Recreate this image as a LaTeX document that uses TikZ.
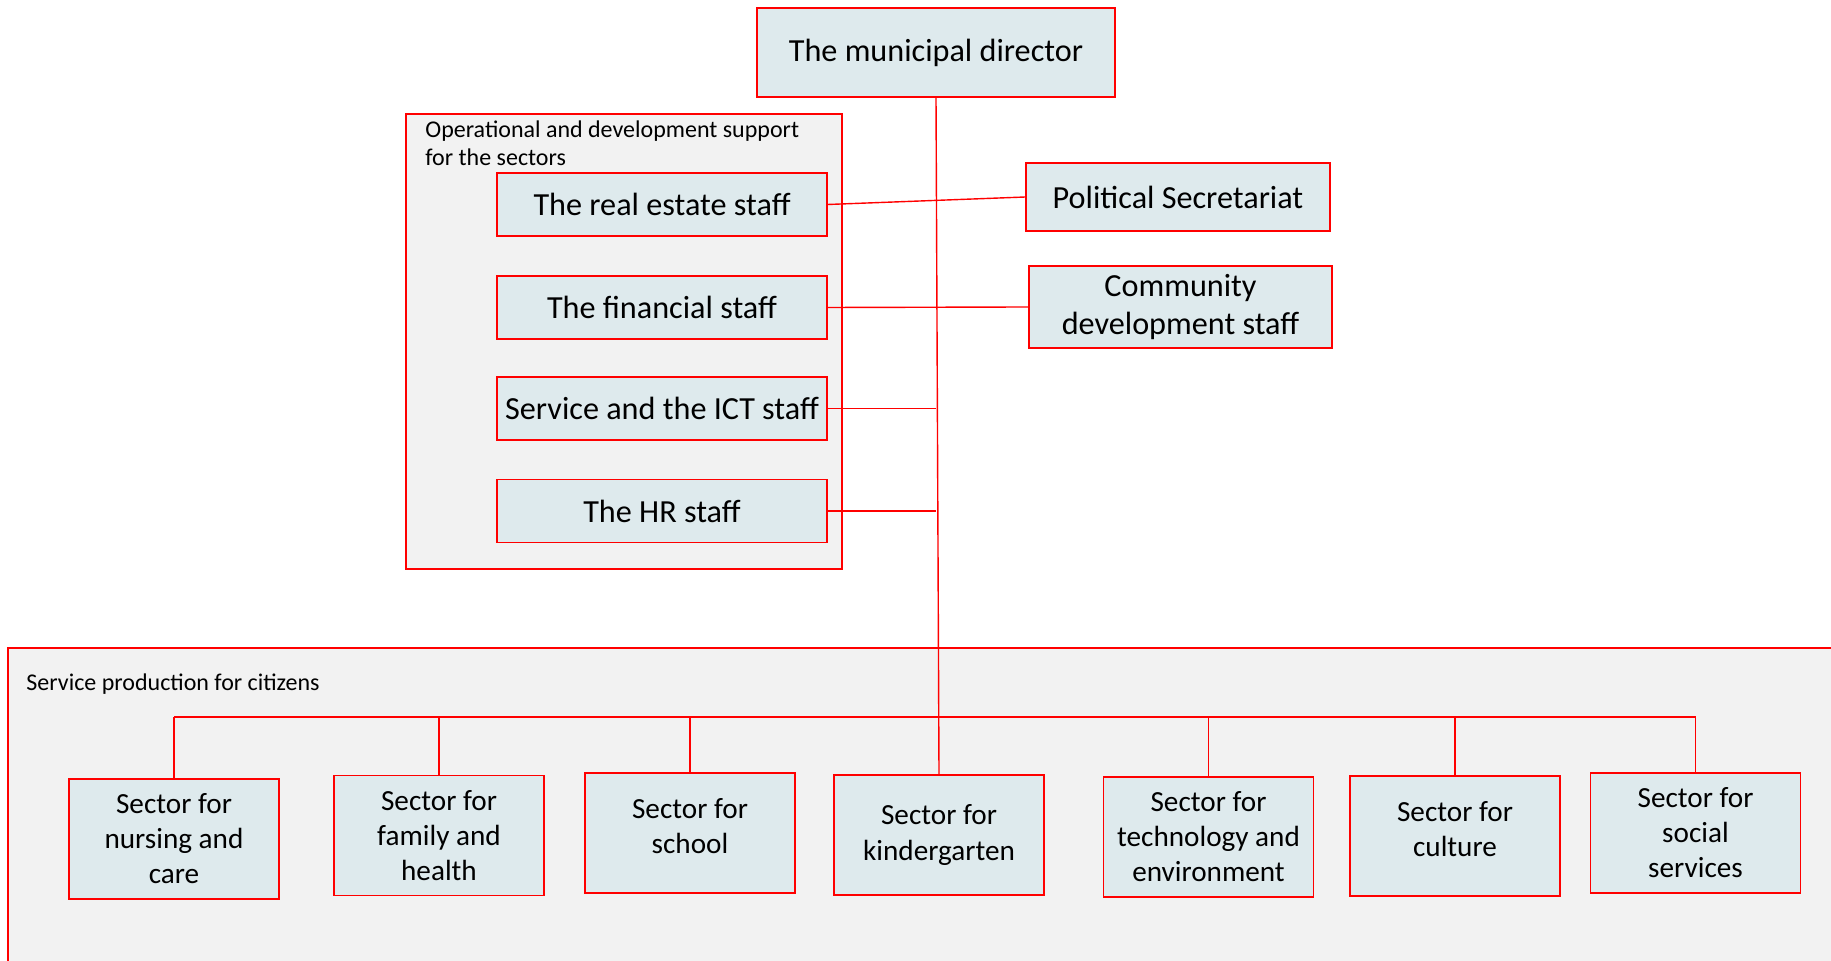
\documentclass[tikz,border=0pt]{standalone}
\usepackage{fontspec}
\setmainfont{Carlito}
\definecolor{boxfill}{RGB}{222,234,237}
\definecolor{groupfill}{RGB}{242,242,242}
\definecolor{linered}{RGB}{255,0,0}
\tikzset{
    unit/.style={draw=linered, line width=0.6pt, fill=boxfill, align=center,
        inner sep=0pt, font=\fontsize{16.1}{18.7}\selectfont},
    staff/.style={unit, minimum width=165pt, minimum height=31.5pt},
    sector/.style={unit, minimum width=105pt, minimum height=60pt,
        font=\fontsize{14.6}{17.5}\selectfont},
    link/.style={draw=linered, line width=0.7pt},
    grouptitle/.style={inner sep=0pt, align=left, font=\fontsize{12}{14}\selectfont},
}

\begin{document}
\begin{tikzpicture}[x=0.5pt, y=-0.5pt]
    \useasboundingbox (0,0) rectangle (1831,961);
    % groups
    \node[draw=linered, line width=0.6pt, fill=groupfill, minimum width=218pt,
        minimum height=227.5pt](ops) at (624,341.5) {};
    \node[grouptitle, anchor=north west](opstitle) at (425,120)
        {Operational and development support\\for the sectors};
    \fill[groupfill] (8,648) rectangle (1831,961);
    \draw[link] (8,961) -- (8,648) -- (1831,648);
    \node[grouptitle, anchor=west](srvtitle) at (26,684) {Service production for citizens};
    % top
    \node[unit, minimum width=179pt, minimum height=44.5pt](dir) at (936,52.5) {The municipal director};
    \node[staff](real)   at (662,204.5) {The real estate staff};
    \node[staff](fin)    at (662,307.5) {The financial staff};
    \node[staff](ict)    at (662,408.5) {Service and the ICT staff};
    \node[staff](hr)     at (662,511)   {The HR staff};
    \node[unit, minimum width=152pt, minimum height=34pt](pol) at (1178,197) {Political Secretariat};
    \node[unit, minimum width=151.5pt, minimum height=41pt](comm) at (1180.5,307)
        {Community\\development staff};
    % sectors
    \node[sector](nurse)  at (174,839)    {Sector for\\nursing and\\care};
    \node[sector](fam)    at (439,835.5)  {Sector for\\family and\\health};
    \node[sector](school) at (690,833)    {Sector for\\school\\[-10.5pt]\mbox{}};
    \node[sector](kinder) at (939,835)    {Sector for\\kindergarten};
    \node[sector](tech)   at (1208.5,837) {Sector for\\technology and\\environment};
    \node[sector](cult)   at (1455,836)   {Sector for\\culture\\[-10.5pt]\mbox{}};
    \node[sector](social) at (1695.5,833) {Sector for\\social\\services};
    \coordinate (bus) at (0,717);
    % connectors
    \draw[link] (dir.south) -- (kinder.north);
    \draw[link] (real.east) -- (pol.west);
    \draw[link] (fin.east) -- (comm.west);
    \draw[link] (ict.east) -- (ict.east -| dir.south);
    \draw[link] (hr.east) -- (hr.east -| dir.south);
    \draw[link] (nurse.north |- bus) -- (social.north |- bus);
    \foreach \s in {nurse,fam,school,tech,cult,social}
        \draw[link] (\s.north) -- (\s.north |- bus);
\end{tikzpicture}
\end{document}
